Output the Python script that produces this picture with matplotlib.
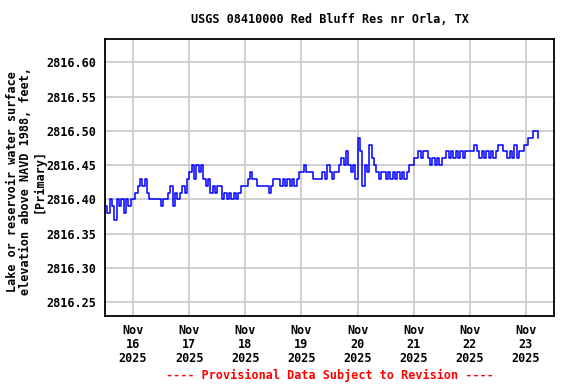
"""
USGS gage height style plot: Red Bluff Res nr Orla, TX
"""

import pandas as pd
import matplotlib
matplotlib.use('Agg')
import matplotlib.pyplot as plt
import matplotlib.dates as mdates

# hourly lake level, hundredths of a foot above 2816.00
start_time = '2025-11-15 12:00'
level_hundredths = [
    39, 38, 40, 39, 37, 40, 39, 40, 38, 40, 39, 40,           # h0-11
    40, 41, 42, 43, 42, 43, 41, 40, 40, 40, 40, 40,           # h12-23
    39, 40, 40, 41, 42, 39, 41, 40, 41, 42, 41, 43,           # h24-35
    44, 45, 43, 45, 44, 45, 43, 42, 43, 41, 42, 41,           # h36-47
    42, 42, 40, 41, 40, 41, 40, 41, 40, 41, 42, 42,           # h48-59
    42, 43, 44, 43, 43, 42, 42, 42, 42, 42, 41, 42,           # h60-71
    43, 43, 43, 42, 43, 42, 43, 42, 43, 42, 43, 44,           # h72-83
    44, 45, 44, 44, 44, 43, 43, 43, 43, 44, 43, 45,           # h84-95
    44, 43, 44, 44, 45, 46, 45, 47, 45, 44, 45, 43,           # h96-107
    49, 47, 42, 45, 44, 48, 46, 45, 44, 43, 44, 44,           # h108-119
    43, 44, 43, 44, 43, 44, 43, 44, 43, 44, 45, 45,           # h120-131
    46, 46, 47, 46, 47, 47, 46, 45, 46, 45, 46, 45,           # h132-143
    46, 46, 47, 46, 47, 46, 47, 46, 47, 46, 47, 47,           # h144-155
    47, 47, 48, 47, 46, 47, 46, 47, 46, 47, 46, 47,           # h156-167
    48, 48, 47, 47, 46, 47, 46, 48, 46, 47, 47, 48,           # h168-179
    48, 49, 49, 50, 50, 49,                                   # h180-185
]
base_level = 2816.00

y_ticks = [2816.25, 2816.30, 2816.35, 2816.40, 2816.45, 2816.50, 2816.55, 2816.60]
x_tick_days = pd.date_range('2025-11-16', '2025-11-23', freq='D')

title = 'USGS 08410000 Red Bluff Res nr Orla, TX'
y_label = ('Lake or reservoir water surface\n'
           'elevation above NAVD 1988, feet,\n[Primary]')
footer = '---- Provisional Data Subject to Revision ----'

plt.rcParams['font.family'] = 'DejaVu Sans Mono'
plt.rcParams['font.weight'] = 'bold'
plt.rcParams['font.size'] = 8.5

times = pd.date_range(start_time, periods=len(level_hundredths), freq='h')
levels = [base_level + v / 100.0 for v in level_hundredths]

fig = plt.figure(figsize=(5.76, 3.84), dpi=100)
ax = fig.add_axes([0.1823, 0.1771, 0.7795, 0.7213])

ax.plot(times, levels, color='#0000ff', linewidth=1.1, drawstyle='steps-post')

ax.set_xlim(pd.Timestamp('2025-11-15 12:00'), pd.Timestamp('2025-11-23 12:00'))
ax.set_ylim(2816.230, 2816.634)

ax.set_yticks(y_ticks)
ax.set_yticklabels([f'{t:.2f}' for t in y_ticks], fontweight='bold')
ax.set_xticks(x_tick_days)
ax.xaxis.set_major_formatter(mdates.DateFormatter('%b\n%d\n%Y'))
for lbl in ax.get_xticklabels():
    lbl.set_fontweight('bold')
    lbl.set_linespacing(1.1)

ax.tick_params(axis='both', length=0, pad=6)
ax.grid(True, color='#cccccc', linewidth=1.3)
ax.set_axisbelow(True)
for sp in ax.spines.values():
    sp.set_linewidth(1.3)
    sp.set_color('black')

ax.set_ylabel(y_label, fontweight='bold', linespacing=1.0)
ax.yaxis.set_label_coords(-0.133, 0.487)

fig.text(0.572, 0.950, title, ha='center', va='center', fontweight='bold')
fig.text(0.572, 0.023, footer, ha='center', va='center', color='#ff0000',
         fontweight='bold')

fig.savefig('out.png', dpi=100)
